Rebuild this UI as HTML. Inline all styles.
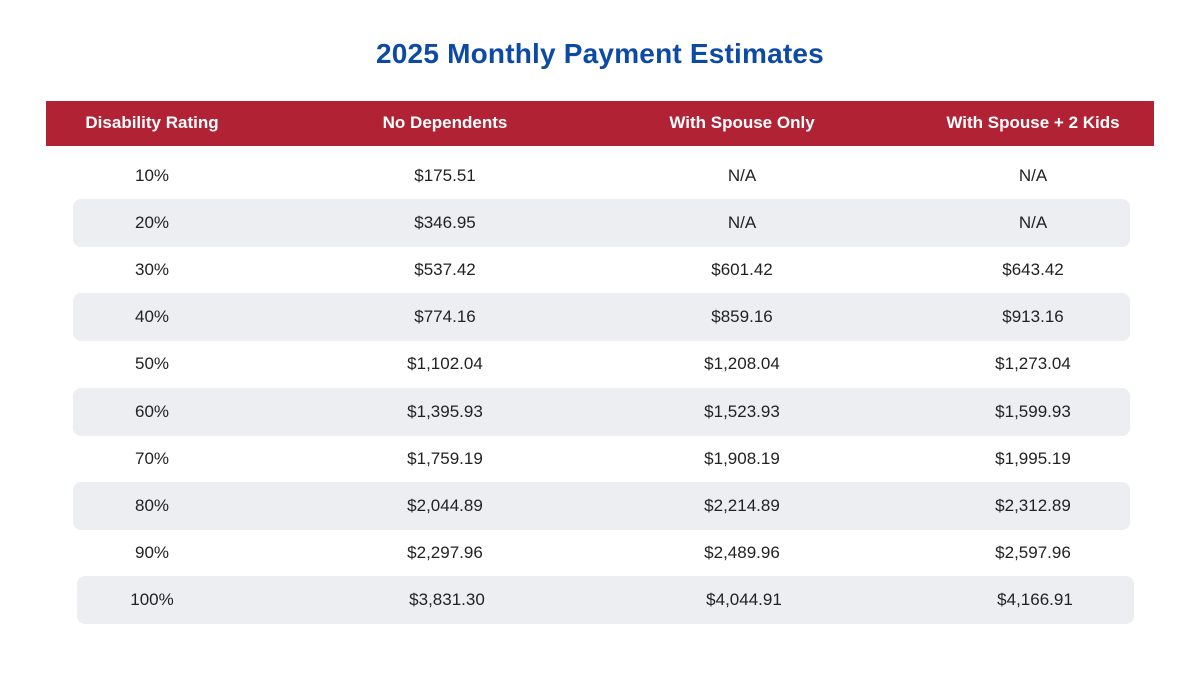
<!DOCTYPE html>
<html><head><meta charset="utf-8"><style>
body{margin:0;width:1200px;height:675px;background:#fff;font-family:"Liberation Sans",sans-serif;position:relative;overflow:hidden}
.t{position:absolute;left:0;width:1200px;top:38px;text-align:center;font-size:28px;font-weight:bold;color:#0d4aa6;letter-spacing:0.2px}
.hdr{position:absolute;left:46px;top:101px;width:1108px;height:45px;background:#b02234}
.c{position:absolute;transform:translateX(-50%);white-space:nowrap}
.h{color:#fff;font-weight:bold;font-size:17px;top:113px}
.v{font-size:17px;color:#222}
.band{position:absolute;background:#eceef2;border-radius:8px;height:48px}
</style></head><body>
<div class="t">2025 Monthly Payment Estimates</div>
<div class="hdr"></div>
<div id="tbl"></div>
<script>
const headers=["Disability Rating","No Dependents","With Spouse Only","With Spouse + 2 Kids"];
const ratings=["10%","20%","30%","40%","50%","60%","70%","80%","90%","100%"];
const noDep=["$175.51","$346.95","$537.42","$774.16","$1,102.04","$1,395.93","$1,759.19","$2,044.89","$2,297.96","$3,831.30"];
const spouse=["N/A","N/A","$601.42","$859.16","$1,208.04","$1,523.93","$1,908.19","$2,214.89","$2,489.96","$4,044.91"];
const spouseKids=["N/A","N/A","$643.42","$913.16","$1,273.04","$1,599.93","$1,995.19","$2,312.89","$2,597.96","$4,166.91"];
const colX=[152,445,742,1033];
const tbl=document.getElementById('tbl');
headers.forEach((h,i)=>{const d=document.createElement('div');d.className='c h';d.style.left=colX[i]+'px';d.textContent=h;


tbl.appendChild(d);});
const cols=[ratings,noDep,spouse,spouseKids];
ratings.forEach((r,ri)=>{
 const cy=176+ri*47.1;
 if(ri%2===1){const b=document.createElement('div');b.className='band';
  const last=ri===ratings.length-1;
  b.style.left=(last?77:73)+'px';b.style.width='1057px';b.style.top=(cy-24)+'px';
  
  
  tbl.appendChild(b);}
 cols.forEach((col,ci)=>{const d=document.createElement('div');d.className='c v';
  d.style.left=(colX[ci]+(ri===9?(ci===0?0:2):0))+'px';d.style.top=(cy-10)+'px';d.textContent=col[ri];
  
  
  tbl.appendChild(d);});
});
</script>
</body></html>
